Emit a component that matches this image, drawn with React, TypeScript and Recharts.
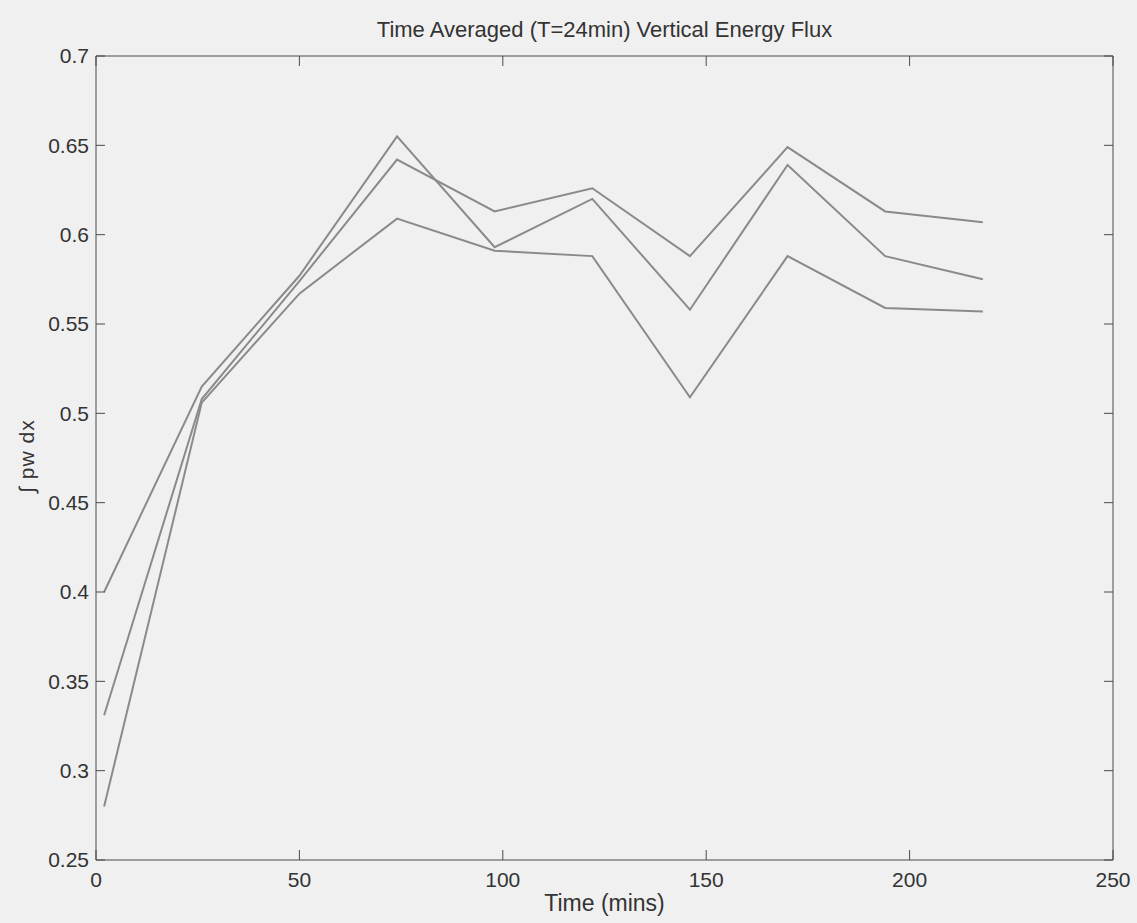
import React from 'react';
import { LineChart, Line, XAxis, YAxis } from 'recharts';

const times = [2, 26, 50, 74, 98, 122, 146, 170, 194, 218];
const seriesA = [0.4, 0.515, 0.577, 0.655, 0.593, 0.62, 0.558, 0.639, 0.588, 0.575];
const seriesB = [0.331, 0.508, 0.574, 0.642, 0.613, 0.626, 0.588, 0.649, 0.613, 0.607];
const seriesC = [0.28, 0.506, 0.567, 0.609, 0.591, 0.588, 0.509, 0.588, 0.559, 0.557];
const xTicks = [0, 50, 100, 150, 200, 250];
const yTicks = [0.25, 0.3, 0.35, 0.4, 0.45, 0.5, 0.55, 0.6, 0.65, 0.7];

const data = times.map((t, i) => ({ t, a: seriesA[i], b: seriesB[i], c: seriesC[i] }));

const AXIS = '#4a4a4a';
const LINE = '#8a8a8a';
const TEXT = '#333';
const FONT = '"Liberation Sans", Arial, sans-serif';

export default function App() {
  return (
    <div style={{ position: 'absolute', left: 0, top: 0, width: 1137, height: 923, background: '#f0f0f0', fontFamily: FONT, overflow: 'hidden' }}>
      <div style={{ position: 'absolute', left: 96, width: 1017, top: 19, textAlign: 'center', fontSize: 22, lineHeight: '22px', color: TEXT, whiteSpace: 'nowrap' }}>
        Time Averaged (T=24min) Vertical Energy Flux
      </div>
      <div style={{ position: 'absolute', left: 96, width: 1017, top: 892, textAlign: 'center', fontSize: 23, lineHeight: '23px', color: TEXT }}>
        Time (mins)
      </div>
      <div style={{ position: 'absolute', left: 27, top: 456, width: 0, height: 0 }}>
        <div style={{ position: 'absolute', left: -70, top: -11, width: 140, textAlign: 'center', fontSize: 21, lineHeight: '22px', color: TEXT, transform: 'rotate(-90deg)', whiteSpace: 'nowrap', letterSpacing: 1 }}>
          ∫ pw dx
        </div>
      </div>
      <div style={{ position: 'absolute', left: 0, top: 0 }}>
        <LineChart width={1137} height={923} data={data} margin={{ top: 55, right: 23, bottom: 0, left: 0 }}>
          <XAxis xAxisId="b" dataKey="t" type="number" domain={[0, 250]} ticks={xTicks} orientation="bottom" height={63}
            tickSize={-10} tickMargin={22} stroke={AXIS} tick={{ fill: TEXT, fontSize: 21, fontFamily: FONT }} interval={0} allowDataOverflow />
          <XAxis xAxisId="t" dataKey="t" type="number" domain={[0, 250]} ticks={xTicks} orientation="top" height={1}
            tickSize={-10} tickFormatter={() => ''} stroke={AXIS} interval={0} allowDataOverflow />
          <YAxis yAxisId="l" type="number" domain={[0.25, 0.7]} ticks={yTicks} orientation="left" width={96}
            tickSize={-9} tickMargin={16} stroke={AXIS} tick={{ fill: TEXT, fontSize: 21, fontFamily: FONT }} interval={0} allowDataOverflow />
          <YAxis yAxisId="r" type="number" domain={[0.25, 0.7]} ticks={yTicks} orientation="right" width={1}
            tickSize={-9} tickFormatter={() => ''} stroke={AXIS} interval={0} allowDataOverflow />
          <Line xAxisId="b" yAxisId="l" dataKey="a" stroke={LINE} strokeWidth={2} dot={false} isAnimationActive={false} />
          <Line xAxisId="b" yAxisId="l" dataKey="b" stroke={LINE} strokeWidth={2} dot={false} isAnimationActive={false} />
          <Line xAxisId="b" yAxisId="l" dataKey="c" stroke={LINE} strokeWidth={2} dot={false} isAnimationActive={false} />
        </LineChart>
      </div>
    </div>
  );
}
